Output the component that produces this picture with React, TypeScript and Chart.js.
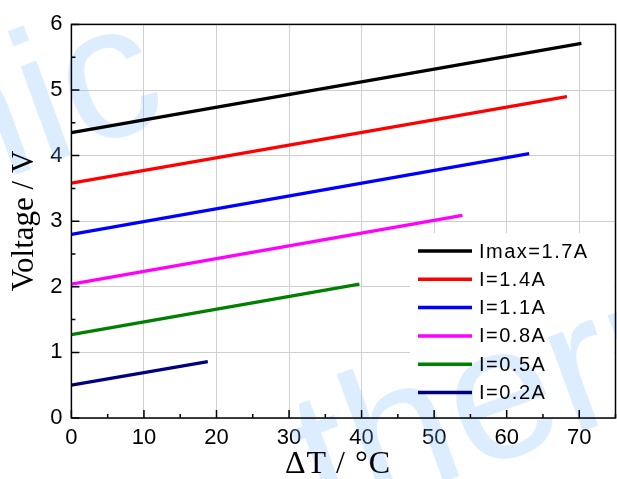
import { useEffect, useRef } from "react";
import { Chart, registerables } from "chart.js";

Chart.register(...registerables);

const seriesLabels = ["Imax=1.7A", "I=1.4A", "I=1.1A", "I=0.8A", "I=0.5A", "I=0.2A"];
const deltaTStart = [0, 0, 0, 0, 0, 0];
const deltaTEnd = [70.3, 68.3, 63.1, 53.9, 39.7, 18.8];
const voltageStart = [4.35, 3.58, 2.8, 2.04, 1.27, 0.5];
const voltageEnd = [5.71, 4.9, 4.03, 3.09, 2.04, 0.86];
const seriesColors = ["#000000", "#ff0000", "#0000ff", "#ff00ff", "#008000", "#000080"];
const xTicks = [0, 10, 20, 30, 40, 50, 60, 70];
const yTicks = [0, 1, 2, 3, 4, 5, 6];
const xTitle = "ΔT / °C";
const yTitle = "Voltage / V";
const watermark = "thermonamic";

const decorPlugin = {
  id: "decor",
  beforeDatasetsDraw(chart: any) {
    const { ctx, chartArea: a } = chart;
    ctx.save();
    // legend background
    ctx.fillStyle = "#ffffff";
    ctx.fillRect(410, 233, a.right - 411, 410 - 233);
    // watermark
    ctx.fillStyle = "rgba(120,185,255,0.26)";
    ctx.font = "190px 'Liberation Sans'";
    ctx.textBaseline = "alphabetic";
    ctx.save();
    ctx.translate(322, 526);
    ctx.rotate((-20 * Math.PI) / 180);
    ctx.textAlign = "left";
    ctx.fillText(watermark, 0, 0);
    ctx.restore();
    ctx.save();
    ctx.translate(172, 118);
    ctx.rotate((-20 * Math.PI) / 180);
    ctx.textAlign = "right";
    ctx.fillText(watermark, 0, 0);
    ctx.restore();
    ctx.restore();
  },
  afterDraw(chart: any) {
    const { ctx, chartArea: a, scales } = chart;
    const xs = scales.x;
    const ys = scales.y;
    ctx.save();
    // frame
    ctx.strokeStyle = "#000";
    ctx.lineWidth = 1.5;
    ctx.strokeRect(a.left, a.top, a.right - a.left, a.bottom - a.top);
    // inward ticks
    ctx.lineWidth = 1.5;
    ctx.beginPath();
    for (let v = 0; v <= 75; v += 5) {
      const px = xs.getPixelForValue(v);
      const len = v % 10 === 0 ? 8 : 4;
      ctx.moveTo(px, a.bottom);
      ctx.lineTo(px, a.bottom - len);
    }
    for (let v = 0; v <= 6; v += 0.5) {
      const py = ys.getPixelForValue(v);
      const len = Number.isInteger(v) ? 8 : 4;
      ctx.moveTo(a.left, py);
      ctx.lineTo(a.left + len, py);
    }
    ctx.stroke();
    // axis titles
    ctx.fillStyle = "#000";
    ctx.font = "32px 'Liberation Serif'";
    (ctx as any).letterSpacing = "1px";
    ctx.textAlign = "center";
    ctx.textBaseline = "alphabetic";
    ctx.fillText(xTitle, 338, 473);
    (ctx as any).letterSpacing = "0px";
    ctx.save();
    ctx.translate(33, 221);
    ctx.rotate(-Math.PI / 2);
    ctx.font = "31px 'Liberation Serif'";
    ctx.fillText(yTitle, 0, 0);
    ctx.restore();
    // legend
    const rowY0 = 251;
    const rowStep = 28.3;
    ctx.font = "20px 'Liberation Sans'";
    (ctx as any).letterSpacing = "1.5px";
    ctx.textAlign = "left";
    ctx.textBaseline = "middle";
    chart.data.datasets.forEach((ds: any, i: number) => {
      const y = rowY0 + i * rowStep;
      ctx.strokeStyle = ds.borderColor;
      ctx.lineWidth = 3.5;
      ctx.beginPath();
      ctx.moveTo(418, y);
      ctx.lineTo(472, y);
      ctx.stroke();
      ctx.fillStyle = "#000";
      ctx.fillText(ds.label, 479, y + 1);
    });
    ctx.restore();
  },
};

export default function App() {
  const ref = useRef<HTMLCanvasElement | null>(null);
  useEffect(() => {
    if (!ref.current) return;
    const datasets = seriesLabels.map((label, i) => ({
      label,
      data: [
        { x: deltaTStart[i], y: voltageStart[i] },
        { x: deltaTEnd[i], y: voltageEnd[i] },
      ],
      borderColor: seriesColors[i],
      backgroundColor: seriesColors[i],
      borderWidth: 3.3,
      pointRadius: 0,
      fill: false,
      tension: 0,
    }));
    const tickFont = { family: "'Liberation Sans'", size: 22 };
    const chart = new Chart(ref.current, {
      type: "line",
      data: { datasets },
      plugins: [decorPlugin],
      options: {
        animation: false,
        responsive: false,
        layout: { padding: { top: 24.4, right: 1.5, left: 0, bottom: 0 } },
        plugins: { legend: { display: false }, tooltip: { enabled: false }, title: { display: false } },
        scales: {
          x: {
            type: "linear",
            min: 0,
            max: 75,
            afterBuildTicks: (s: any) => {
              s.ticks = xTicks.map((v) => ({ value: v }));
            },
            afterFit: (s: any) => {
              s.height = 61;
            },
            grid: { color: "#cfcfcf", lineWidth: 1, drawTicks: false },
            border: { display: false },
            ticks: { font: tickFont, color: "#000", padding: 7, maxRotation: 0, autoSkip: false },
          },
          y: {
            type: "linear",
            min: 0,
            max: 6,
            afterBuildTicks: (s: any) => {
              s.ticks = yTicks.map((v) => ({ value: v }));
            },
            afterFit: (s: any) => {
              s.width = 71.4;
            },
            grid: { color: "#cfcfcf", lineWidth: 1, drawTicks: false },
            border: { display: false },
            ticks: { font: tickFont, color: "#000", padding: 9, autoSkip: false },
          },
        },
      },
    });
    return () => chart.destroy();
  }, []);
  return (
    <div style={{ position: "absolute", left: 0, top: 0, width: 617, height: 479, background: "#fff" }}>
      <canvas ref={ref} width={617} height={479} style={{ display: "block" }} />
    </div>
  );
}
